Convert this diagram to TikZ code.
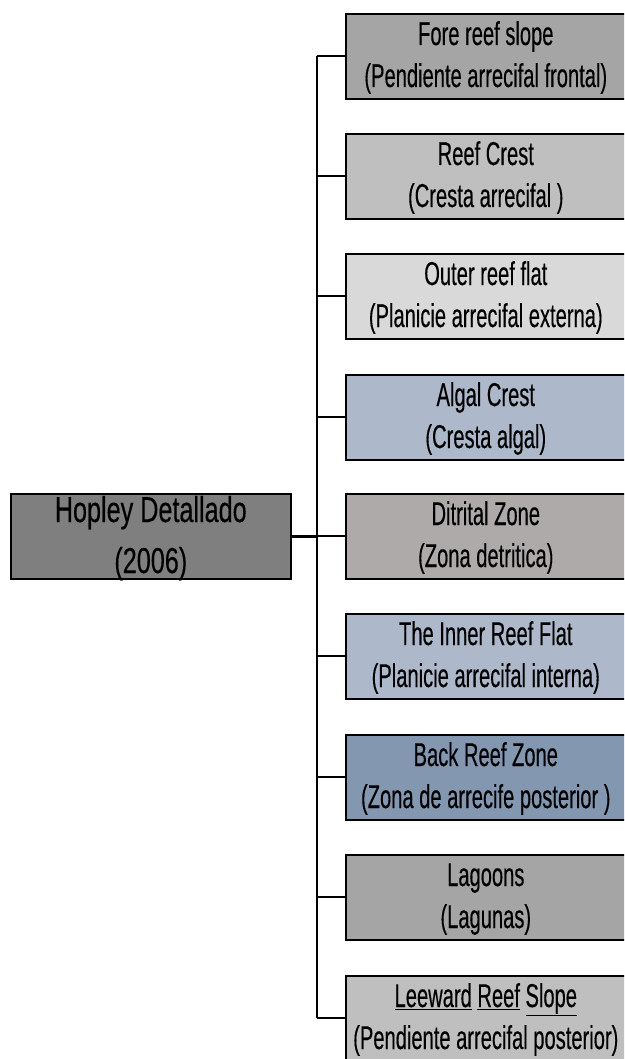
\documentclass[tikz,border=0pt]{standalone}
\usepackage{fontspec}
\setmainfont{Liberation Sans}[FakeStretch=0.61,FakeBold=0.3]
\newfontfamily\leftfont{Liberation Sans}[FakeStretch=0.70,FakeBold=0.3]
\definecolor{cfore}{HTML}{A5A5A5}
\definecolor{ccrest}{HTML}{BFBFBF}
\definecolor{couter}{HTML}{D9D9D9}
\definecolor{calgal}{HTML}{ADB9CA}
\definecolor{cditr}{HTML}{AEAAAA}
\definecolor{cinner}{HTML}{ADB9CA}
\definecolor{cback}{HTML}{8497B0}
\definecolor{clag}{HTML}{A5A5A5}
\definecolor{clee}{HTML}{BFBFBF}
\definecolor{chop}{HTML}{7F7F7F}
\newcommand\reefbox[5]{%
  \node[box, fill=#3] (#1) at (345,#2) {};
  \node[lbl] (#1a) at ([yshift=-32pt]#1.north) {#4};
  \node[lbl] (#1b) at ([yshift=-74pt]#1.north) {#5};
  \draw[conn] (#1.west) -- (#1.west -| T);
}
\begin{document}
\begin{tikzpicture}[x=1pt,y=-1pt,
  box/.style={draw=black, line width=1.6pt, minimum width=280pt, minimum height=85pt, inner sep=0pt, anchor=north west},
  lbl/.style={anchor=base, inner sep=0pt, text=black, font=\fontsize{33}{37}\selectfont},
  hlbl/.style={anchor=base, inner sep=0pt, text=black, font=\leftfont\fontsize{36}{40}\selectfont},
  conn/.style={line width=2pt},
  trunk/.style={line width=2.6pt}]
\clip (0,0) rectangle (624,1059);
\useasboundingbox (0,0) rectangle (624,1059);
\fill[white] (0,0) rectangle (624,1059);
\coordinate (T) at (317,0);
\reefbox{b1}{13}{cfore}{Fore reef slope}{(Pendiente arrecifal frontal)}
\reefbox{b2}{133}{ccrest}{Reef Crest}{(Cresta arrecifal )}
\reefbox{b3}{253}{couter}{Outer reef flat}{(Planicie arrecifal externa)}
\reefbox{b4}{374}{calgal}{Algal Crest}{(Cresta algal)}
\reefbox{b5}{493}{cditr}{Ditrital Zone}{(Zona detritica)}
\reefbox{b6}{613}{cinner}{The Inner Reef Flat}{(Planicie arrecifal interna)}
\reefbox{b7}{734}{cback}{Back Reef Zone}{(Zona de arrecife posterior )}
\reefbox{b8}{854}{clag}{Lagoons}{(Lagunas)}
\reefbox{b9}{975}{clee}{\underline{Leeward} \underline{Reef} \underline{Slope}}{(Pendiente arrecifal posterior)}
\node[box, fill=chop] (hop) at (10,493) {};
\node[hlbl] (hopa) at ([yshift=-29pt]hop.north) {Hopley Detallado};
\node[hlbl] (hopb) at ([yshift=-80pt]hop.north) {(2006)};
\draw[trunk] (b1.west -| T) -- (b9.west -| T);
\draw[trunk] (hop.east) -- (hop.east -| T);
\end{tikzpicture}
\end{document}
